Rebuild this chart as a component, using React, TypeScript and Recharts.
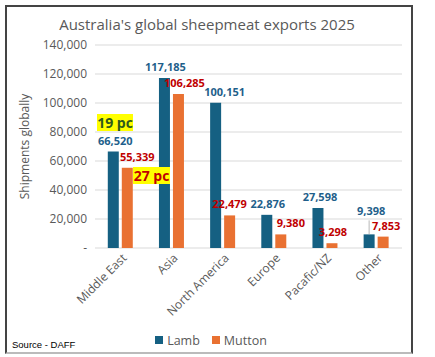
import { BarChart, Bar, XAxis, YAxis, CartesianGrid, LabelList } from 'recharts';

const regions = ['Middle East', 'Asia', 'North America', 'Europe', 'Pacafic/NZ', 'Other'];
const lamb = [66520, 117185, 100151, 22876, 27598, 9398];
const mutton = [55339, 106285, 22479, 9380, 3298, 7853];
const yTicks = [0, 20000, 40000, 60000, 80000, 100000, 120000, 140000];

const data = regions.map((region, i) => ({ region, lamb: lamb[i], mutton: mutton[i] }));

const LAMB = '#156082';
const MUTTON = '#E97132';
const FONT = '"Open Sans", "Noto Sans", sans-serif';

// label nudges so the numbers sit roughly where the original has them
const lambNudge = [[2, 0], [1, 0], [9, 0], [1, 0], [2, 0], [2, -12]];
const muttonNudge = [[10, 0], [6, 0], [0, 0], [10, 0], [1, 0], [3, 0]];

function makeLabel(color: string, nudge: number[][]) {
  return (props: any) => {
    const { x, y, width, value, index } = props;
    const [dx, dy] = nudge[index] || [0, 0];
    const cx = x + width / 2;
    return (
      <g>
        {dy < -5 && <line x1={cx} x2={cx} y1={y} y2={y - 6 + dy + 4} stroke="#a6a6a6" strokeWidth={0.8} />}
        <text x={cx + dx} y={y - 7 + dy} textAnchor="middle" fill={color}
          fontSize={11} fontWeight={700} fontFamily={FONT}>
          {Number(value).toLocaleString('en-US')}
        </text>
      </g>
    );
  };
}

const XTick = (props: any) => {
  const { x, y, payload } = props;
  return (
    <text x={x + 4} y={y} transform={`rotate(-45 ${x + 4} ${y})`} textAnchor="end"
      fill="#595959" fontSize={12} fontFamily={FONT} dy={4}>
      {payload.value}
    </text>
  );
};

const legendItem = (color: string, text: string) => (
  <span style={{ display: 'inline-flex', alignItems: 'center', marginRight: 12 }}>
    <span style={{ width: 8, height: 8, background: color, marginRight: 4 }} />
    <span>{text}</span>
  </span>
);

export default function App() {
  return (
    <div style={{ position: 'absolute', left: 0, top: 0, width: 435, height: 357, background: '#fff', fontFamily: FONT }}>
      <div style={{ position: 'absolute', left: 5, top: 5, width: 404, height: 345, borderLeft: '2px solid #444', borderTop: '2px solid #444', borderRight: '2px solid #444', borderBottom: '2px solid #bbb' }} />
      <div style={{ position: 'absolute', left: 0, top: 14, width: 414, textAlign: 'center', fontSize: 15, color: '#595959' }}>
        Australia's global sheepmeat exports 2025
      </div>
      <BarChart width={435} height={357} data={data} margin={{ top: 45, right: 33, bottom: 49, left: 35 }}
        barCategoryGap="25%" barGap={3} style={{ position: 'absolute', left: 0, top: 0 }}>
        <CartesianGrid vertical={false} stroke="#d9d9d9" />
        <XAxis dataKey="region" tick={<XTick />} tickLine={false} axisLine={false} interval={0} height={60} />
        <YAxis domain={[0, 140000]} ticks={yTicks} width={60} tickLine={false} axisLine={false}
          tick={{ fill: '#595959', fontSize: 12, fontFamily: FONT }}
          tickFormatter={(v) => (v === 0 ? '-' : v.toLocaleString('en-US'))}
          label={{ value: 'Shipments globally', angle: -90, position: 'insideLeft', offset: -10, fill: '#595959', fontSize: 12, fontFamily: FONT, style: { textAnchor: 'middle' } }} />
        <Bar dataKey="lamb" name="Lamb" fill={LAMB} isAnimationActive={false}>
          <LabelList dataKey="lamb" content={makeLabel('#1F5F8B', lambNudge)} />
        </Bar>
        <Bar dataKey="mutton" name="Mutton" fill={MUTTON} isAnimationActive={false}>
          <LabelList dataKey="mutton" content={makeLabel('#C00000', muttonNudge)} />
        </Bar>
      </BarChart>
      <div style={{ position: 'absolute', left: 0, top: 331, width: 434, textAlign: 'center', fontSize: 12.5, color: '#595959' }}>
        {legendItem(LAMB, 'Lamb')}{legendItem(MUTTON, 'Mutton')}
      </div>
      <div style={{ position: 'absolute', left: 97, top: 114, width: 36, height: 17, background: '#FFFF00', color: '#2E5A1C', fontWeight: 700, fontSize: 14, lineHeight: '17px', textAlign: 'center', whiteSpace: 'nowrap' }}>19 pc</div>
      <div style={{ position: 'absolute', left: 133, top: 167, width: 37, height: 17, background: '#FFFF00', color: '#C00000', fontWeight: 700, fontSize: 14, lineHeight: '17px', textAlign: 'center', whiteSpace: 'nowrap' }}>27 pc</div>
      <div style={{ position: 'absolute', left: 12, top: 339, fontSize: 9.5, color: '#000', fontFamily: '"Liberation Sans", Arial, sans-serif' }}>Source - DAFF</div>
    </div>
  );
}
